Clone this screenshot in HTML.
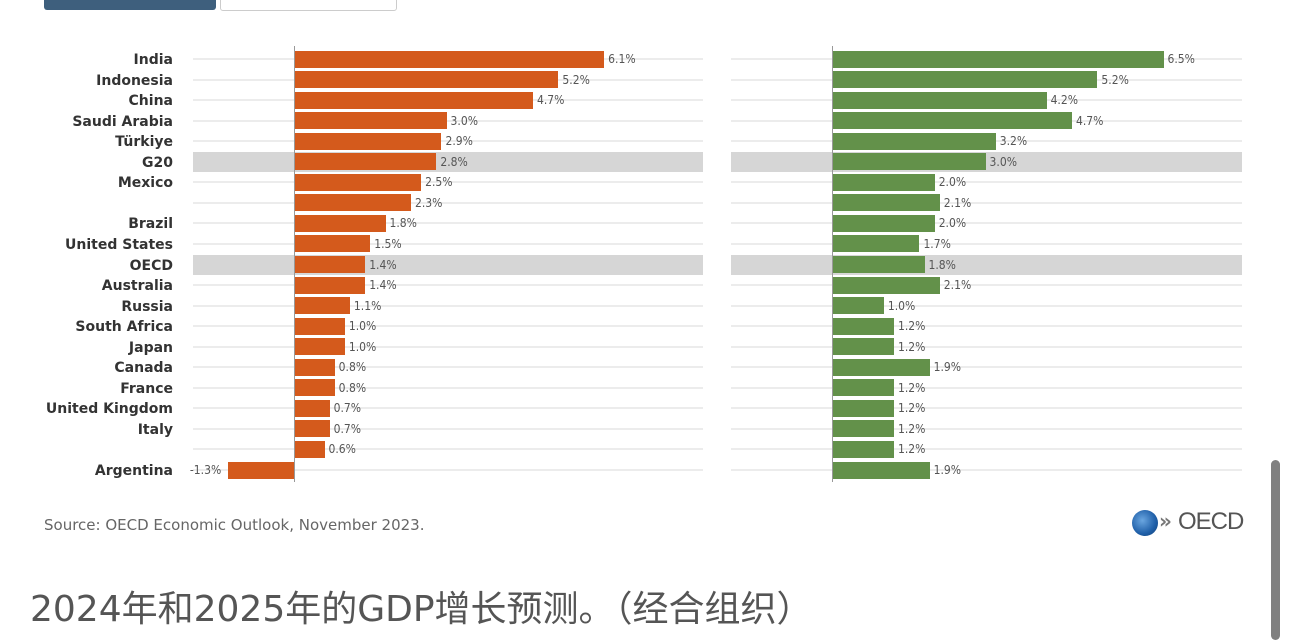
<!DOCTYPE html>
<html><head><meta charset="utf-8"><style>
body{margin:0;width:1290px;height:634px;background:#fff;position:relative;overflow:hidden;font-family:"DejaVu Sans","Noto Sans CJK SC",sans-serif}
div{position:absolute}
.lab{width:173px;left:0;text-align:right;font-size:14px;font-weight:bold;color:#333;line-height:18px}
.v{font-size:12px;color:#555;line-height:18px;font-family:"DejaVu Sans Condensed","DejaVu Sans",sans-serif}
.g{height:2px;background:#ececec}
.band{height:20px;background:#d6d6d6}
</style></head><body>
<div style="left:44px;top:-4px;width:172px;height:14px;background:#3e5f7d;border-radius:3px"></div>
<div style="left:220px;top:-4px;width:175px;height:13px;border:1px solid #ccc;border-radius:3px;background:#fff"></div>
<div id="c"></div>
<div style="left:44px;top:516px;font-size:15px;color:#666">Source: OECD Economic Outlook, November 2023.</div>
<div style="left:1132px;top:510px;width:26px;height:26px;border-radius:50%;background:radial-gradient(circle at 40% 40%,#6aa6e0,#1f5fa8 60%,#123f73)"></div>
<div style="left:1159px;top:509px;font-size:20px;color:#777;font-weight:bold;letter-spacing:-2px">»</div>
<div style="left:1178px;top:508px;font-size:24px;color:#555;letter-spacing:-1px;font-family:'Liberation Sans',sans-serif">OECD</div>
<div style="left:30px;top:580px;font-size:36px;color:#555;font-family:'DejaVu Sans','Noto Sans CJK SC',sans-serif">2024年和2025年的GDP增长预测。（经合组织）</div>
<div style="left:1271px;top:460px;width:9px;height:180px;background:#808080;border-radius:5px"></div>
<script>
var rows=[["India",6.1,6.5],["Indonesia",5.2,5.2],["China",4.7,4.2],["Saudi Arabia",3.0,4.7],["Türkiye",2.9,3.2],["G20",2.8,3.0],["Mexico",2.5,2.0],["",2.3,2.1],["Brazil",1.8,2.0],["United States",1.5,1.7],["OECD",1.4,1.8],["Australia",1.4,2.1],["Russia",1.1,1.0],["South Africa",1.0,1.2],["Japan",1.0,1.2],["Canada",0.8,1.9],["France",0.8,1.2],["United Kingdom",0.7,1.2],["Italy",0.7,1.2],["",0.6,1.2],["Argentina",-1.3,1.9]];
var h="",k=50.85;
rows.forEach(function(r,i){
 var y=59+i*20.55;
 if(r[0]=="G20"||r[0]=="OECD"){h+='<div class="band" style="left:193px;width:510px;top:'+(y-10)+'px"></div><div class="band" style="left:731px;width:511px;top:'+(y-10)+'px"></div>';}
 else{h+='<div class="g" style="left:193px;width:510px;top:'+(y-1)+'px"></div><div class="g" style="left:731px;width:511px;top:'+(y-1)+'px"></div>';}
 h+='<div class="lab" style="top:'+(y-8)+'px">'+r[0]+'</div>';
 var w=Math.abs(r[1])*k,x=r[1]<0?294-w:294;
 h+='<div style="left:'+x+'px;top:'+(y-8.5)+'px;width:'+w+'px;height:17px;background:#d45a1c"></div>';
 if(r[1]<0)h+='<div class="v" style="left:'+(x-38)+'px;top:'+(y-9)+'px">'+r[1].toFixed(1)+'%</div>';
 else h+='<div class="v" style="left:'+(x+w+4)+'px;top:'+(y-9)+'px">'+r[1].toFixed(1)+'%</div>';
 var w2=r[2]*k;
 h+='<div style="left:833px;top:'+(y-8.5)+'px;width:'+w2+'px;height:17px;background:#63914a"></div>';
 h+='<div class="v" style="left:'+(833+w2+4)+'px;top:'+(y-9)+'px">'+r[2].toFixed(1)+'%</div>';
});
h+='<div style="left:294px;top:46px;width:1px;height:436px;background:#999"></div><div style="left:832px;top:46px;width:1px;height:436px;background:#999"></div>';
document.getElementById("c").innerHTML=h;
</script>
</body></html>
